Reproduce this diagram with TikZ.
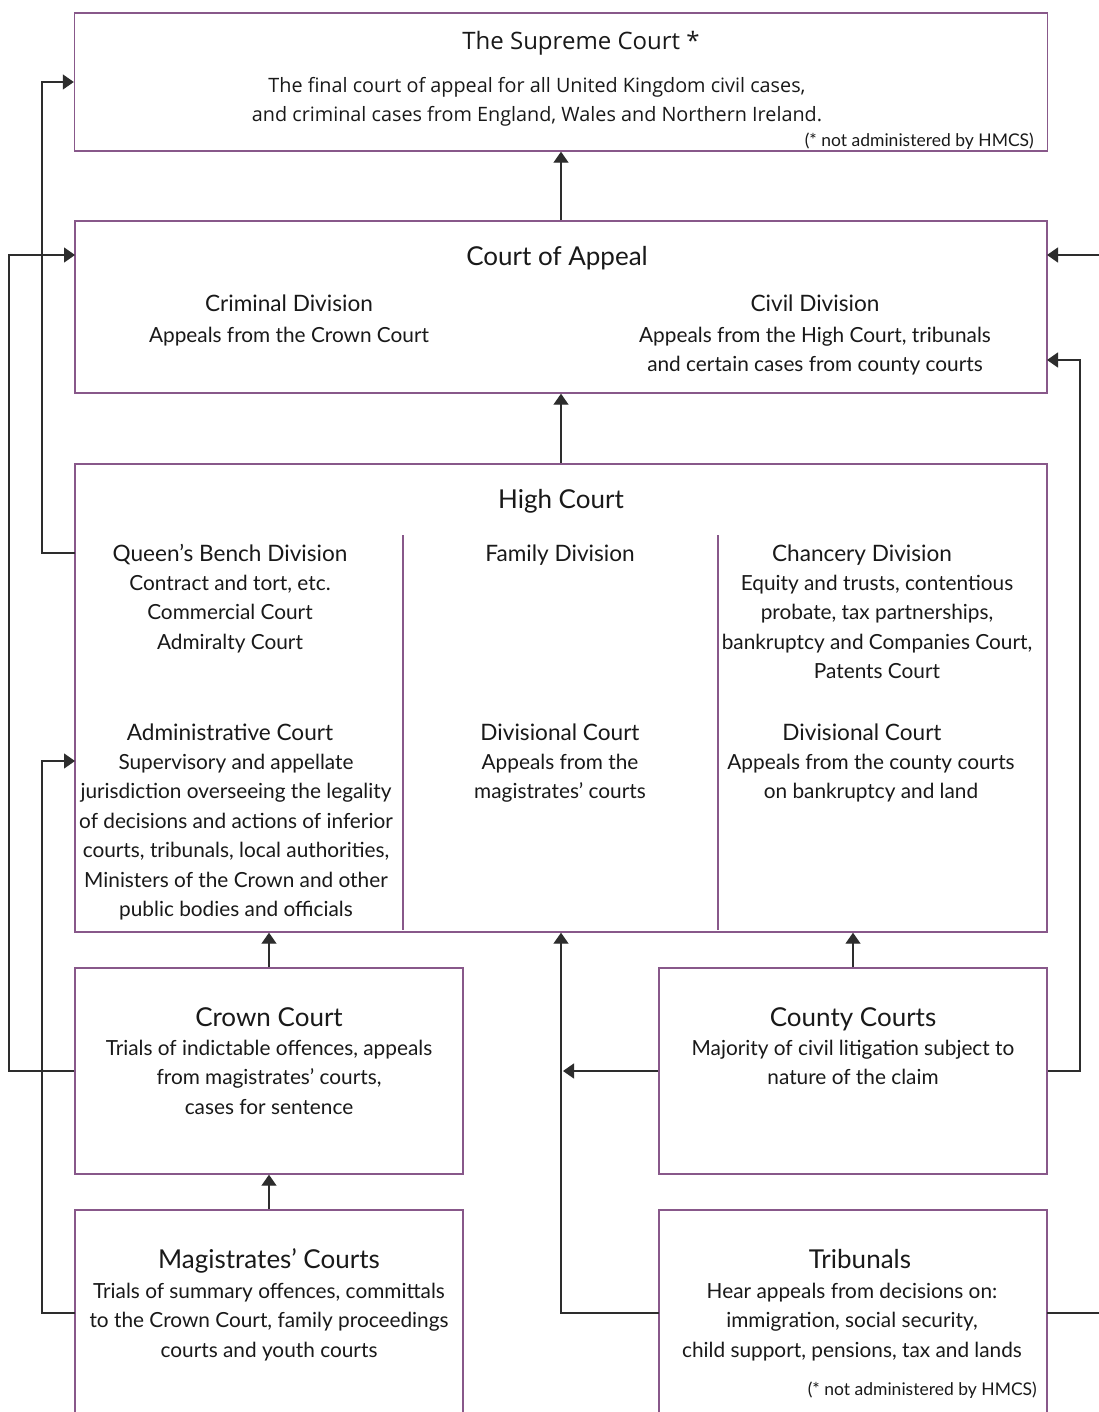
\documentclass[tikz,border=0pt]{standalone}
\usepackage{fontspec}
\setmainfont{Lato}
\newfontfamily\supfont{Open Sans}
\usetikzlibrary{arrows.meta}
\definecolor{boxc}{RGB}{136,88,138}
\definecolor{linec}{RGB}{45,45,45}
\definecolor{txt}{RGB}{25,25,25}
\begin{document}
\begin{tikzpicture}[x=1pt,y=-1pt,
  box/.style={draw=boxc, line width=1.4pt, inner sep=0pt},
  conn/.style={draw=linec, line width=1.3pt},
  arr/.style={conn, -{Triangle[length=11pt,width=15pt]}},
  ttl/.style={font=\fontsize{26}{30}\selectfont, text=txt, anchor=base, inner sep=0pt},
  sub/.style={font=\fontsize{22.6}{29.5}\selectfont, text=txt, anchor=base, inner sep=0pt, align=center},
  body/.style={font=\fontsize{20.8}{29.5}\selectfont, text=txt, anchor=base, inner sep=0pt, align=center},
  note/.style={font=\fontsize{17.5}{20}\selectfont, text=txt, anchor=base east, inner sep=0pt},
  supf/.style={font=\supfont\fontsize{#1}{29}\selectfont, text=txt, anchor=base, inner sep=0pt, align=center},
  divider/.style={draw=boxc, line width=1.2pt}
]
\useasboundingbox (0,0) rectangle (1099,1412);
\clip (0,0) rectangle (1099,1412);
\fill[white] (0,0) rectangle (1099,1412);

% boxes
\node[box, minimum width=973pt, minimum height=138pt] (sup) at (561,82) {};
\node[box, minimum width=972pt, minimum height=172pt] (coa) at (561,307) {};
\node[box, minimum width=972pt, minimum height=468pt] (hc) at (561,698) {};
\node[box, minimum width=388pt, minimum height=206pt] (crown) at (269,1071) {};
\node[box, minimum width=388pt, minimum height=206pt] (county) at (853,1071) {};
\node[box, minimum width=388pt, minimum height=240pt] (mag) at (269,1330) {};
\node[box, minimum width=388pt, minimum height=240pt] (trib) at (853,1330) {};

% supreme court (multi-line nodes: base = last line)
\node[supf=24] (supt) at (581,50) {The Supreme Court *};
\node[supf=19.8] (supb) at (537,122) {The final court of appeal for all United Kingdom civil cases,\\and criminal cases from England, Wales and Northern Ireland.};
\node[note] (supn) at (1034,147) {(* not administered by HMCS)};

% court of appeal
\node[ttl] (coat) at (557,266) {Court of Appeal};
\node[sub] (crimt) at (289,312) {Criminal Division};
\node[body] (crimb) at (289,342) {Appeals from the Crown Court};
\node[sub] (civt) at (815,312) {Civil Division};
\node[body] (civb) at (815,371.5) {Appeals from the High Court, tribunals\\and certain cases from county courts};

% high court
\node[ttl] (hct) at (561,508) {High Court};
\draw[divider] (403,535) -- (403,930);
\draw[divider] (718,535) -- (718,930);
\node[sub] (qbt) at (230,561) {Queen’s Bench Division};
\node[body] (qbb) at (230,649) {Contract and tort, etc.\\Commercial Court\\Admiralty Court};
\node[sub] (famt) at (560,561) {Family Division};
\node[sub] (cht) at (862,561) {Chancery Division};
\node[body] (chb) at (877,678.5) {Equity and trusts, contentious\\probate, tax partnerships,\\bankruptcy and Companies Court,\\Patents Court};
\node[sub] (admt) at (230,740) {Administrative Court};
\node[body] (admb) at (236,916.5) {Supervisory and appellate\\jurisdiction overseeing the legality\\of decisions and actions of inferior\\courts, tribunals, local authorities,\\Ministers of the Crown and other\\public bodies and officials};
\node[sub] (div1t) at (560,740) {Divisional Court};
\node[body] (div1b) at (560,798.5) {Appeals from the\\magistrates’ courts};
\node[sub] (div2t) at (862,740) {Divisional Court};
\node[body] (div2b) at (871,798.5) {Appeals from the county courts\\on bankruptcy and land};

% crown / county
\node[ttl] (crt) at (269,1026) {Crown Court};
\node[body] (crb) at (269,1114) {Trials of indictable offences, appeals\\from magistrates’ courts,\\cases for sentence};
\node[ttl] (cot) at (853,1026) {County Courts};
\node[body] (cob) at (853,1084.5) {Majority of civil litigation subject to\\nature of the claim};

% magistrates / tribunals
\node[ttl] (mgt) at (269,1268) {Magistrates’ Courts};
\node[body] (mgb) at (269,1357) {Trials of summary offences, committals\\to the Crown Court, family proceedings\\courts and youth courts};
\node[ttl] (trt) at (860,1268) {Tribunals};
\node[body] (trb) at (852,1357) {Hear appeals from decisions on:\\immigration, social security,\\child support, pensions, tax and lands};
\node[note] (trn) at (1037,1395) {(* not administered by HMCS)};

% connector ends
\coordinate (qbl) at (75,553);
\coordinate (coaL) at (75,255);
\coordinate (magL) at (75,1313);
\coordinate (hcL) at (75,761);
\coordinate (tribL) at (659,1313);
\coordinate (tribR) at (1047,1313);
\coordinate (coaR1) at (1047,255);
\coordinate (coaR2) at (1047,360);
\coordinate (cojoin) at (563,1071);

% connectors
\draw[arr] (coa.north) -- (sup.south);
\draw[arr] (hc.north) -- (coa.south);
\draw[arr] (crown.north) -- (crown.north |- hc.south);
\draw[arr] (county.north) -- (county.north |- hc.south);
\draw[arr] (mag.north) -- (crown.south);
\draw[arr] (qbl) -- (42,553) |- (sup.west);
\draw[arr] (crown.west) -- (9,1071) |- (coaL);
\draw[arr] (magL) -- (42,1313) |- (hcL);
\draw[arr] (county.west) -- (cojoin);
\draw[arr] (tribL) -| (hc.south);
\draw[arr] (county.east) -- (1080,1071) |- (coaR2);
\draw[arr] (tribR) -- (1120,1313) |- (coaR1);
\end{tikzpicture}
\end{document}
